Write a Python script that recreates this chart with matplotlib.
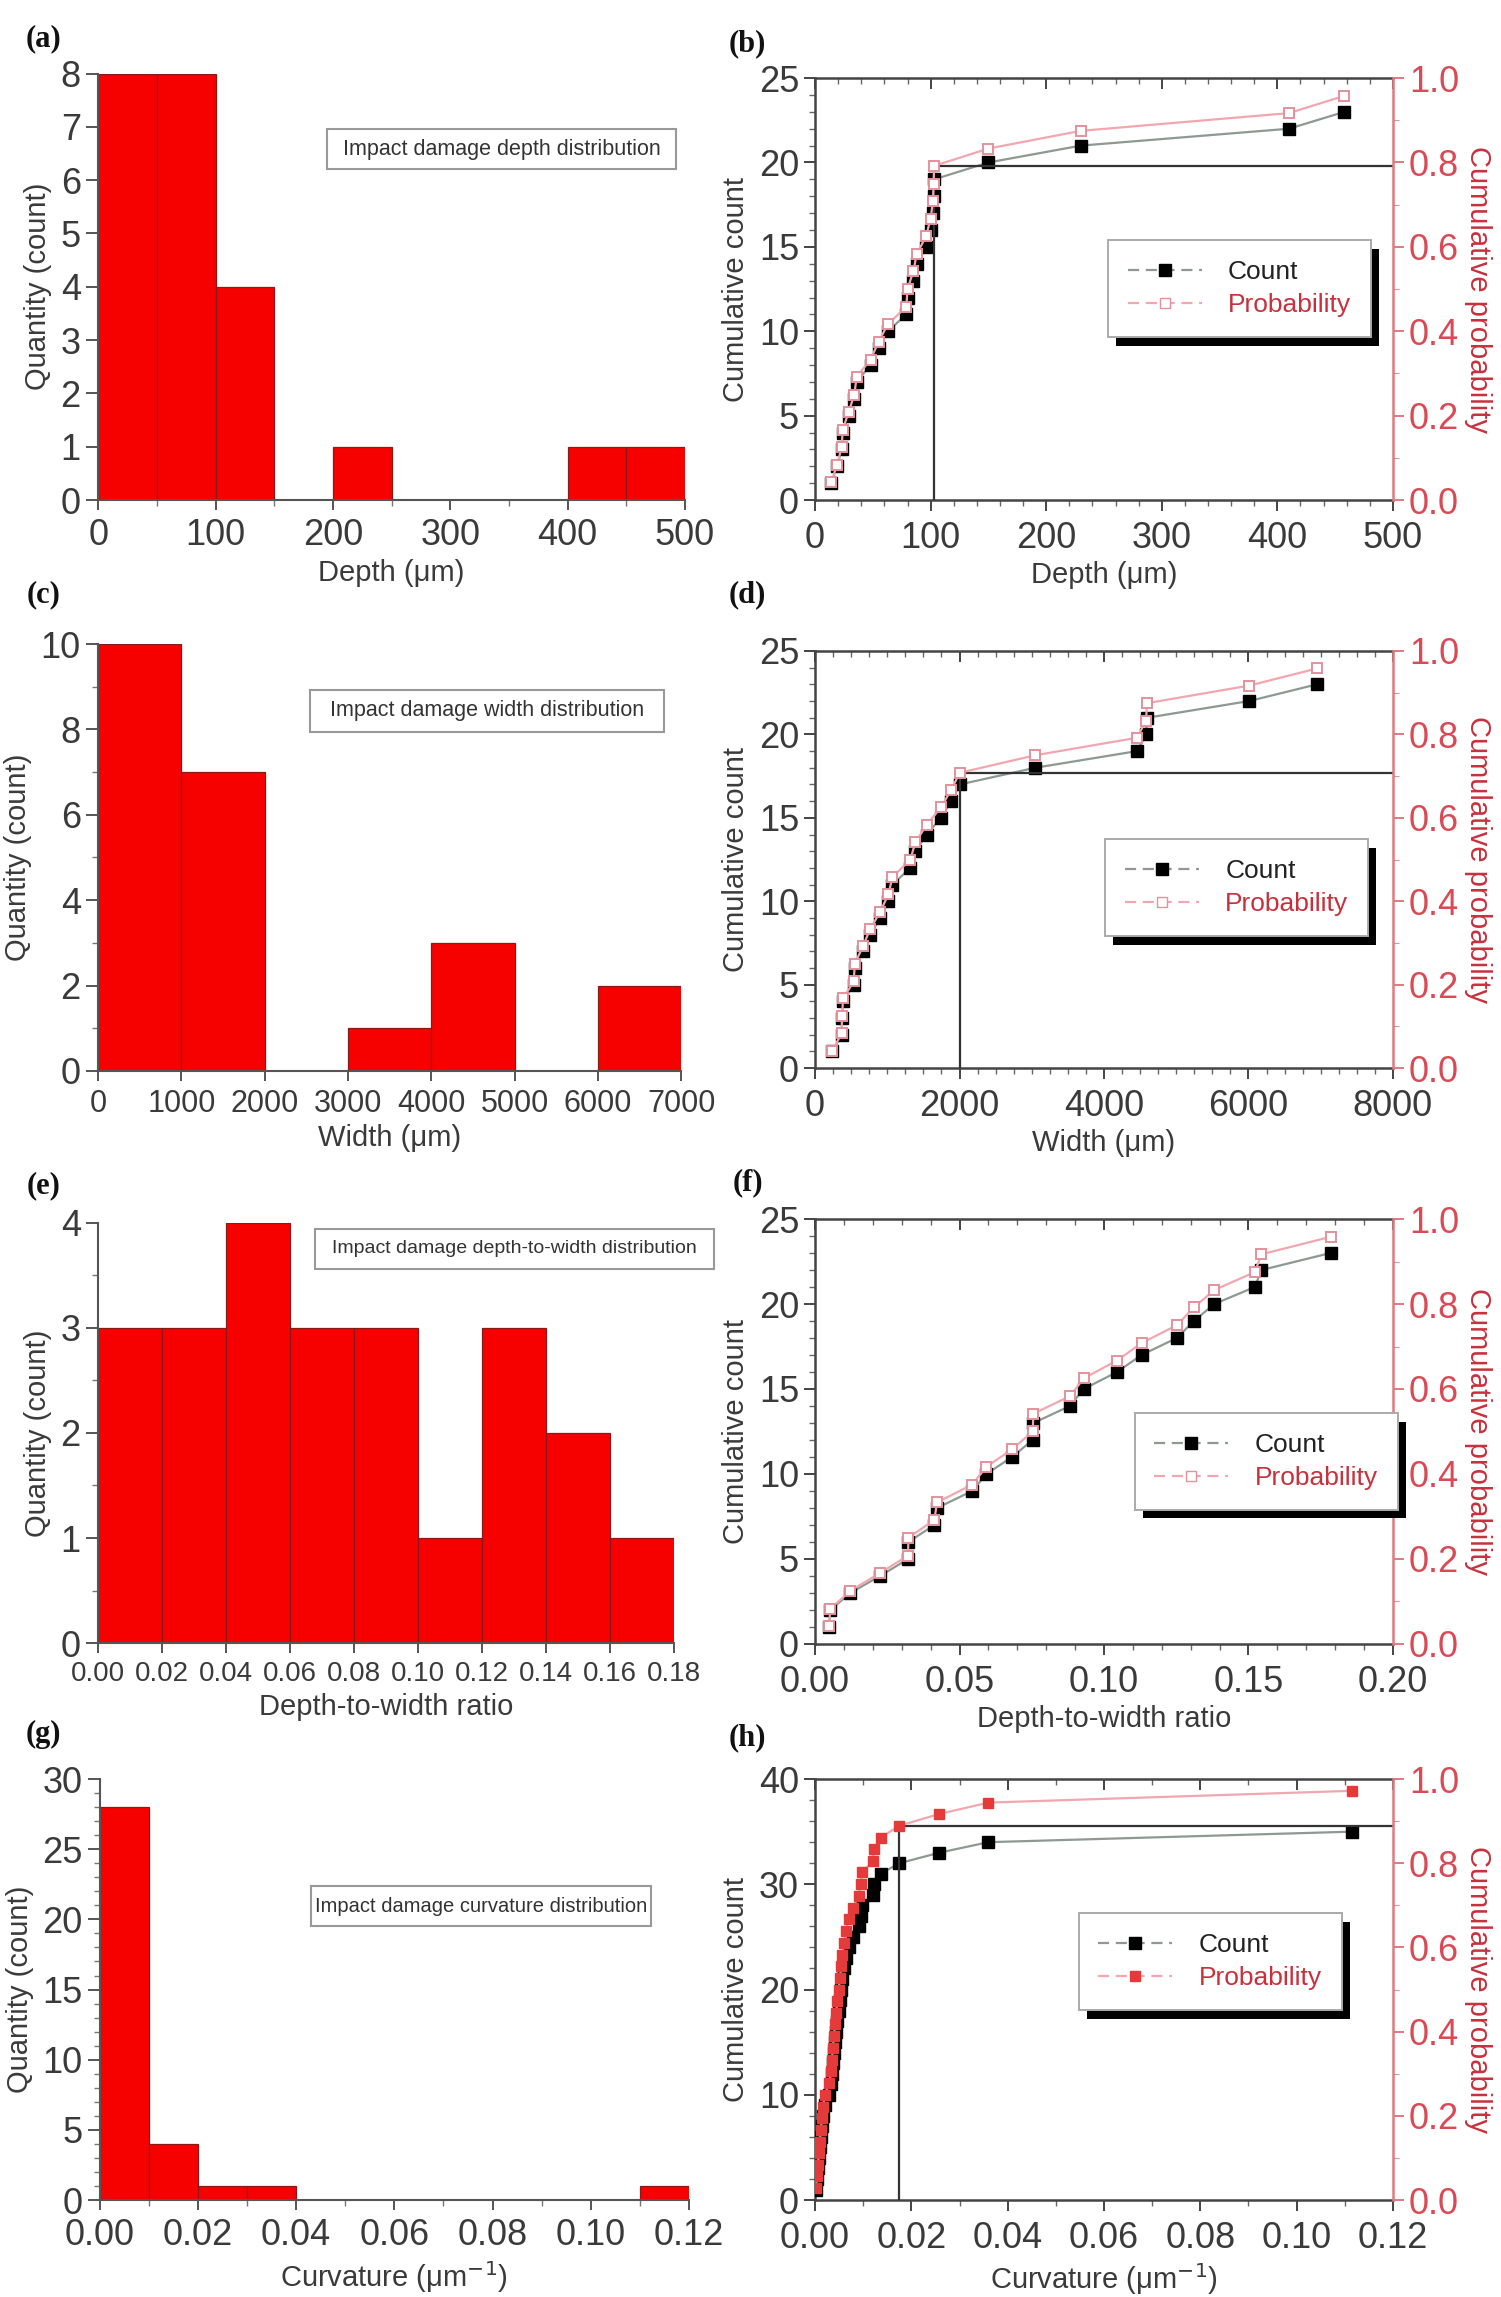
import matplotlib
matplotlib.use("Agg")
import matplotlib.pyplot as plt
import matplotlib.patheffects as pe
from matplotlib.lines import Line2D
from matplotlib.ticker import MultipleLocator, FormatStrFormatter

plt.rcParams['font.family'] = ['Liberation Sans Narrow', 'Liberation Sans', 'DejaVu Sans']

# ---- histogram data (bin edges + counts) ----
depth_edges = [0, 50, 100, 150, 200, 250, 300, 350, 400, 450, 500]
depth_hist = [8, 8, 4, 0, 1, 0, 0, 0, 1, 1]

width_edges = [0, 1000, 2000, 3000, 4000, 5000, 6000, 7000]
width_hist = [10, 7, 0, 1, 3, 0, 2]

ratio_edges = [0.00, 0.02, 0.04, 0.06, 0.08, 0.10, 0.12, 0.14, 0.16, 0.18]
ratio_hist = [3, 3, 4, 3, 3, 1, 3, 2, 1]

curv_edges = [0.00, 0.01, 0.02, 0.03, 0.04, 0.05, 0.06, 0.07, 0.08, 0.09, 0.10, 0.11, 0.12]
curv_hist = [28, 4, 1, 1, 0, 0, 0, 0, 0, 0, 0, 1]

# ---- cumulative data ----
count_23 = [1, 2, 3, 4, 5, 6, 7, 8, 9, 10, 11, 12, 13, 14, 15, 16, 17, 18, 19, 20, 21, 22, 23]
prob_23 = [0.042, 0.083, 0.125, 0.167, 0.208, 0.250, 0.292, 0.333, 0.375, 0.417, 0.458, 0.500,
           0.542, 0.583, 0.625, 0.667, 0.708, 0.750, 0.792, 0.833, 0.875, 0.917, 0.958]

depth_sorted = [14, 19, 23, 24, 29, 34, 36, 48, 55, 63, 79, 80, 85, 88, 96, 100, 102, 102.6,
                103, 150, 230, 410, 458]
width_sorted = [240, 367, 374, 388, 536, 550, 663, 762, 903, 1016, 1072, 1319, 1390, 1545,
                1743, 1884, 2004, 3048, 4459, 4579, 4600, 6011, 6949]
ratio_sorted = [0.0048, 0.0053, 0.0122, 0.0225, 0.0322, 0.0323, 0.0413, 0.0422, 0.0544, 0.0593,
                0.0682, 0.0753, 0.0756, 0.0882, 0.0930, 0.1045, 0.1130, 0.1252, 0.1311, 0.1382,
                0.1522, 0.1545, 0.1784]

count_35 = [1, 2, 3, 4, 5, 6, 7, 8, 9, 10, 11, 12, 13, 14, 15, 16, 17, 18, 19, 20, 21, 22, 23,
            24, 25, 26, 27, 28, 29, 30, 31, 32, 33, 34, 35]
prob_35 = [0.028, 0.056, 0.083, 0.111, 0.139, 0.167, 0.194, 0.222, 0.250, 0.278, 0.306, 0.333,
           0.361, 0.389, 0.417, 0.444, 0.472, 0.500, 0.528, 0.556, 0.583, 0.611, 0.639, 0.667,
           0.694, 0.722, 0.750, 0.778, 0.806, 0.833, 0.861, 0.889, 0.917, 0.944, 0.972]
curv_sorted = [0.0002, 0.0004, 0.0006, 0.0008, 0.0010, 0.0012, 0.0014, 0.0017, 0.0020, 0.0030,
               0.0033, 0.0035, 0.0037, 0.0039, 0.0042, 0.0044, 0.0046, 0.0049, 0.0052, 0.0054,
               0.0057, 0.0060, 0.0064, 0.0070, 0.0078, 0.0091, 0.0095, 0.0098, 0.0120, 0.0122,
               0.0136, 0.0175, 0.0258, 0.0360, 0.1115]

TXT = '#3a3a3a'
RED = '#d94a55'
PINK = '#f2a7b0'
BAR = '#f70000'

fig = plt.figure(figsize=(15.01, 22.97), dpi=100)


def hist_panel(rect, edges, counts, xlim, ylim, xmajor, ymajor, yminor, xlabel, note, note_pos,
               xfmt=None, xtick_size=26, xminor=None, note_size=15.5):
    ax = fig.add_axes(rect)
    widths = [edges[i + 1] - edges[i] for i in range(len(counts))]
    ax.bar(edges[:-1], counts, width=widths, align='edge', color=BAR,
           edgecolor='#8a1a1a', linewidth=0.9)
    ax.set_xlim(*xlim)
    ax.set_ylim(*ylim)
    ax.xaxis.set_major_locator(MultipleLocator(xmajor))
    ax.yaxis.set_major_locator(MultipleLocator(ymajor))
    ax.yaxis.set_minor_locator(MultipleLocator(yminor))
    if xminor:
        ax.xaxis.set_minor_locator(MultipleLocator(xminor))
    if xfmt:
        ax.xaxis.set_major_formatter(FormatStrFormatter(xfmt))
    for s in ['top', 'right']:
        ax.spines[s].set_visible(False)
    for s in ['left', 'bottom']:
        ax.spines[s].set_color('#555555')
        ax.spines[s].set_linewidth(1.5)
    ax.tick_params(axis='y', which='major', direction='out', length=9, width=1.4,
                   labelsize=26, labelcolor=TXT, color='#555555')
    ax.tick_params(axis='x', which='major', direction='out', length=7, width=1.4,
                   labelsize=xtick_size, labelcolor=TXT, color='#555555', pad=6)
    ax.tick_params(which='minor', direction='out', length=4, width=1.0, color='#777777')
    ax.set_xlabel(xlabel, fontsize=21, color=TXT, labelpad=4)
    ax.set_ylabel('Quantity (count)', fontsize=21, color=TXT, labelpad=6)
    x0, y0, x1, y1 = note_pos
    ax.text((x0 + x1) / 2, (y0 + y1) / 2, note, transform=ax.transAxes, ha='center',
            va='center', fontsize=note_size, color='#333333', zorder=5)
    ax.add_patch(plt.Rectangle((x0, y0), x1 - x0, y1 - y0, transform=ax.transAxes,
                               facecolor='white', edgecolor='#999999', linewidth=1.5,
                               clip_on=False, zorder=4))
    return ax


def cum_panel(rect, xs, counts, probs, xlim, ylim, xmajor, xminor, ymajor, yminor, xlabel,
              leg_anchor, xfmt=None, cut=None, prob_filled=False):
    ax = fig.add_axes(rect)
    ax.set_xlim(*xlim)
    ax.set_ylim(*ylim)
    ax.plot(xs, counts, '-', color='#8c9a92', lw=1.6, marker='s', ms=8, mfc='black',
            mec='black', zorder=3)
    ax.xaxis.set_major_locator(MultipleLocator(xmajor))
    ax.xaxis.set_minor_locator(MultipleLocator(xminor))
    ax.yaxis.set_major_locator(MultipleLocator(ymajor))
    ax.yaxis.set_minor_locator(MultipleLocator(yminor))
    if xfmt:
        ax.xaxis.set_major_formatter(FormatStrFormatter(xfmt))
    ax.tick_params(axis='both', which='major', direction='out', length=8, width=1.4,
                   labelsize=26, labelcolor=TXT, color='#444444')
    ax.tick_params(axis='x', which='major', pad=7)
    ax.tick_params(which='minor', direction='out', length=4, width=1.0, color='#666666')
    for s in ['left', 'bottom']:
        ax.spines[s].set_color('#444444')
        ax.spines[s].set_linewidth(1.8)
    ax.spines['right'].set_visible(False)
    ax.spines['top'].set_visible(False)
    top = ax.secondary_xaxis('top')
    top.xaxis.set_major_locator(MultipleLocator(xmajor))
    top.xaxis.set_minor_locator(MultipleLocator(xminor))
    top.tick_params(which='major', direction='in', length=8, width=1.4, labeltop=False,
                    color='#444444')
    top.tick_params(which='minor', direction='in', length=4, width=1.0, color='#666666')
    top.spines['top'].set_color('#444444')
    top.spines['top'].set_linewidth(1.8)
    ax.set_xlabel(xlabel, fontsize=21, color=TXT, labelpad=4)
    ax.set_ylabel('Cumulative count', fontsize=21, color=TXT, labelpad=6)

    ax2 = ax.twinx()
    ax2.set_ylim(0, 1.0)
    if prob_filled:
        ax2.plot(xs, probs, '-', color=PINK, lw=1.6, marker='s', ms=7, mfc='#e53a3a',
                 mec='#e53a3a', zorder=3)
    else:
        ax2.plot(xs, probs, '-', color=PINK, lw=1.6, marker='s', ms=7, mfc='white',
                 mec='#e5909a', mew=1.4, zorder=3)
    if cut is not None:
        cx, cp = cut
        ax2.plot([cx, cx], [0, cp], color='#333333', lw=1.6, zorder=2)
        ax2.plot([cx, xlim[1]], [cp, cp], color='#333333', lw=1.6, zorder=2)
    ax2.yaxis.set_major_locator(MultipleLocator(0.2))
    ax2.yaxis.set_minor_locator(MultipleLocator(0.1))
    ax2.yaxis.set_major_formatter(FormatStrFormatter('%.1f'))
    ax2.tick_params(axis='y', which='major', direction='out', length=8, width=1.4,
                    labelsize=26, labelcolor=RED, color='#e07a80')
    ax2.tick_params(axis='y', which='minor', direction='out', length=4, color='#e07a80')
    ax2.spines['right'].set_color('#e07a80')
    ax2.spines['right'].set_linewidth(1.8)
    for s in ['left', 'bottom', 'top']:
        ax2.spines[s].set_visible(False)
    ax2.set_ylabel('Cumulative probability', fontsize=21, color='#c8303c', rotation=270,
                   labelpad=24)

    h_count = Line2D([], [], color='#8c9a92', ls=(0, (5, 3)), lw=1.6, marker='s', ms=8,
                     mfc='black', mec='black')
    if prob_filled:
        h_prob = Line2D([], [], color=PINK, ls=(0, (5, 3)), lw=1.6, marker='s', ms=7,
                        mfc='#e53a3a', mec='#e53a3a')
    else:
        h_prob = Line2D([], [], color=PINK, ls=(0, (5, 3)), lw=1.6, marker='s', ms=7,
                        mfc='white', mec='#e5909a')
    leg = ax2.legend([h_count, h_prob], ['Count', 'Probability'], loc='lower left',
                     bbox_to_anchor=leg_anchor, borderaxespad=0, fontsize=19, frameon=True,
                     fancybox=False, framealpha=1.0, handlelength=2.8, numpoints=1,
                     borderpad=0.75, labelspacing=0.35, handletextpad=1.0,
                     labelcolor=['#222222', '#c8303c'])
    leg.get_frame().set_edgecolor('#aaaaaa')
    leg.get_frame().set_linewidth(1.4)
    leg.get_frame().set_path_effects([
        pe.SimplePatchShadow(offset=(6, -6), shadow_rgbFace='black', alpha=1.0),
        pe.Normal()])
    return ax, ax2


# (a)
hist_panel([0.0654, 0.7823, 0.391, 0.1857], depth_edges, depth_hist, (0, 500), (0, 8), 100, 1,
           1, 'Depth (\u03bcm)', 'Impact damage depth distribution', (0.39, 0.775, 0.985, 0.87),
           xminor=50)
# (b)
cum_panel([0.543, 0.7823, 0.385, 0.1837], depth_sorted, count_23, prob_23, (0, 500), (0, 25),
          100, 20, 5, 1, 'Depth (\u03bcm)', (0.507, 0.386), cut=(103, 0.792))
# (c)
hist_panel([0.0654, 0.5338, 0.3886, 0.1858], width_edges, width_hist, (0, 7000), (0, 10), 1000,
           2, 1, 'Width (\u03bcm)', 'Impact damage width distribution',
           (0.364, 0.795, 0.97, 0.892), xtick_size=22)
# (d)
cum_panel([0.543, 0.535, 0.385, 0.1816], width_sorted, count_23, prob_23, (0, 8000), (0, 25),
          2000, 250, 5, 1, 'Width (\u03bcm)', (0.502, 0.316), cut=(2004, 0.708))
# (e)
hist_panel([0.0654, 0.2847, 0.3836, 0.1829], ratio_edges, ratio_hist, (0, 0.18), (0, 4), 0.02,
           1, 0.5, 'Depth-to-width ratio', 'Impact damage depth-to-width distribution',
           (0.377, 0.89, 1.07, 0.986), xfmt='%.2f', xtick_size=20, note_size=14)
# (f)
cum_panel([0.543, 0.2843, 0.385, 0.185], ratio_sorted, count_23, prob_23, (0, 0.20), (0, 25),
          0.05, 0.01, 5, 1, 'Depth-to-width ratio', (0.553, 0.315), xfmt='%.2f')
# (g)
hist_panel([0.0664, 0.0422, 0.3926, 0.1833], curv_edges, curv_hist, (0, 0.12), (0, 30), 0.02,
           5, 1, 'Curvature (\u03bcm$^{-1}$)', 'Impact damage curvature distribution',
           (0.358, 0.65, 0.935, 0.746), xfmt='%.2f', xminor=0.01, note_size=14.5)
# (h)
cum_panel([0.543, 0.0422, 0.385, 0.1833], curv_sorted, count_35, prob_35, (0, 0.12), (0, 40),
          0.02, 0.01, 10, 2, 'Curvature (\u03bcm$^{-1}$)', (0.456, 0.451), xfmt='%.2f',
          cut=(0.0175, 0.889), prob_filled=True)

labels = [('(a)', 0.029, 0.983), ('(b)', 0.498, 0.981), ('(c)', 0.029, 0.741),
          ('(d)', 0.498, 0.741), ('(e)', 0.029, 0.484), ('(f)', 0.498, 0.485),
          ('(g)', 0.029, 0.2447), ('(h)', 0.498, 0.2433)]
for t, x, y in labels:
    fig.text(x, y, t, fontsize=22, fontweight='bold', family='Liberation Serif',
             ha='center', va='center', color='#111111')

fig.savefig('out.png', dpi=100, facecolor='white')
